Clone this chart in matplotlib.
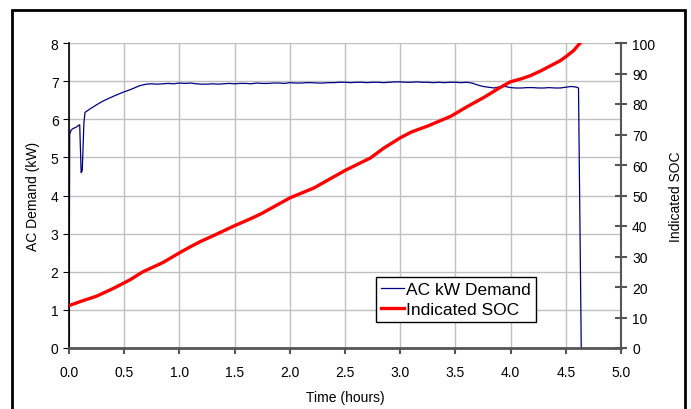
import numpy as np
import matplotlib.pyplot as plt
from matplotlib.patches import Rectangle
from matplotlib.lines import Line2D

plt.rcParams['font.family'] = ['Liberation Sans', 'DejaVu Sans']

# AC kW demand
t_kw = [0.0, 0.006, 0.02, 0.04, 0.07, 0.09, 0.097, 0.11, 0.12, 0.135, 0.145,
        0.19, 0.25, 0.31, 0.4, 0.49, 0.55, 0.64, 0.7, 0.75, 0.8, 0.85, 0.9,
        0.95, 1.0, 1.05, 1.1, 1.15, 1.2, 1.25, 1.3, 1.35, 1.4, 1.45, 1.5,
        1.55, 1.6, 1.65, 1.7, 1.75, 1.8, 1.85, 1.9, 1.95, 2.0, 2.05, 2.1,
        2.15, 2.2, 2.25, 2.3, 2.35, 2.4, 2.45, 2.5, 2.55, 2.6, 2.65, 2.7,
        2.75, 2.8, 2.85, 2.9, 2.95, 3.0, 3.05, 3.1, 3.15, 3.2, 3.25, 3.3,
        3.35, 3.4, 3.45, 3.5, 3.55, 3.6, 3.65, 3.7, 3.75, 3.8, 3.85, 3.9,
        3.95, 4.0, 4.05, 4.1, 4.15, 4.2, 4.25, 4.3, 4.35, 4.4, 4.45, 4.5,
        4.55, 4.6, 4.615, 4.64]
kw = [0.0, 5.6, 5.72, 5.76, 5.8, 5.85, 5.85, 4.6, 4.65, 5.9, 6.18,
      6.27, 6.38, 6.48, 6.6, 6.71, 6.77, 6.88, 6.92, 6.93, 6.92, 6.93, 6.94,
      6.93, 6.95, 6.94, 6.95, 6.93, 6.92, 6.92, 6.93, 6.92, 6.93, 6.94, 6.93,
      6.94, 6.94, 6.93, 6.95, 6.94, 6.94, 6.95, 6.95, 6.94, 6.96, 6.95, 6.95,
      6.96, 6.96, 6.95, 6.95, 6.96, 6.96, 6.97, 6.97, 6.96, 6.97, 6.97, 6.96,
      6.97, 6.97, 6.96, 6.97, 6.98, 6.98, 6.97, 6.97, 6.98, 6.97, 6.97, 6.96,
      6.97, 6.96, 6.97, 6.97, 6.96, 6.97, 6.95, 6.9, 6.86, 6.84, 6.82, 6.85,
      6.86, 6.83, 6.82, 6.82, 6.83, 6.83, 6.82, 6.82, 6.83, 6.82, 6.82, 6.84,
      6.86, 6.84, 6.82, 0.0]

# Indicated SOC (right axis)
t_soc = [0.0, 0.1, 0.25, 0.4, 0.55, 0.67, 0.85, 1.0, 1.1, 1.19, 1.3, 1.5,
         1.64, 1.74, 2.0, 2.22, 2.5, 2.73, 2.85, 3.0, 3.1, 3.25, 3.46, 3.6,
         3.76, 3.9, 4.0, 4.1, 4.18, 4.27, 4.36, 4.45, 4.5, 4.57, 4.63]
soc = [13.9, 15.2, 17.0, 19.5, 22.3, 25.0, 28.0, 31.2, 33.2, 34.9, 36.7, 40.1,
       42.3, 44.0, 49.2, 52.5, 58.2, 62.3, 65.5, 68.9, 70.8, 72.8, 76.0, 79.0,
       82.2, 85.3, 87.3, 88.3, 89.3, 90.8, 92.5, 94.2, 95.5, 97.5, 100.0]

fig = plt.figure(figsize=(6.91, 4.10), dpi=100)
ax = fig.add_axes([69/691, 61/410, 552/691, 305/410])
ax2 = ax.twinx()

ax.plot(t_kw, kw, color='#000080', lw=0.9)
ax2.plot(t_soc, soc, color='#ff0000', lw=2.4)

ax.set_xlim(0, 5)
ax.set_ylim(0, 8)
ax2.set_ylim(0, 100)
ax.set_xticks(np.arange(0, 5.01, 0.5))
ax.set_xticklabels(['%.1f' % v for v in np.arange(0, 5.01, 0.5)])
ax.set_yticks(range(0, 9))
ax2.set_yticks(range(0, 101, 10))
ax.grid(True, color='#c0c0c0', lw=1)
ax.set_axisbelow(True)

for s in ['top']:
    ax.spines[s].set_visible(False)
    ax2.spines[s].set_visible(False)
ax2.spines['left'].set_visible(False)
ax2.spines['bottom'].set_visible(False)
ax.spines['right'].set_visible(False)
ax.spines['left'].set_color('black')
ax.spines['left'].set_linewidth(1.2)
ax.spines['bottom'].set_color('#555555')
ax.spines['bottom'].set_linewidth(2)
ax2.spines['right'].set_color('#555555')
ax2.spines['right'].set_linewidth(1.5)

ax.tick_params(axis='y', direction='out', length=4, color='black', labelsize=10)
ax.tick_params(axis='x', direction='out', length=4, color='#555555', width=1.5,
               labelsize=10, pad=8)
ax2.tick_params(axis='y', direction='inout', length=9, color='#555555',
                width=1.5, labelsize=10)

ax.set_xlabel('Time (hours)', fontsize=10, labelpad=8)
ax.set_ylabel('AC Demand (kW)', fontsize=10, labelpad=8)
ax2.set_ylabel('Indicated SOC', fontsize=10, labelpad=10)

handles = [Line2D([], [], color='#000080', lw=0.9),
           Line2D([], [], color='#ff0000', lw=2.4)]
leg = ax2.legend(handles, ['AC kW Demand', 'Indicated SOC'],
                 loc='lower left', bbox_to_anchor=(0.556, 0.085),
                 fontsize=12.5, frameon=True, fancybox=False, framealpha=1,
                 edgecolor='black', handlelength=1.3, handletextpad=0.15,
                 borderpad=0.3, labelspacing=0.25, borderaxespad=0)
leg.get_frame().set_linewidth(1)

fig.patches.append(Rectangle((12/691, -0.1), 673/691, 1.1 - 11/410,
                             transform=fig.transFigure, fill=False,
                             edgecolor='black', lw=2, clip_on=False))

fig.savefig('out.png', dpi=100)
